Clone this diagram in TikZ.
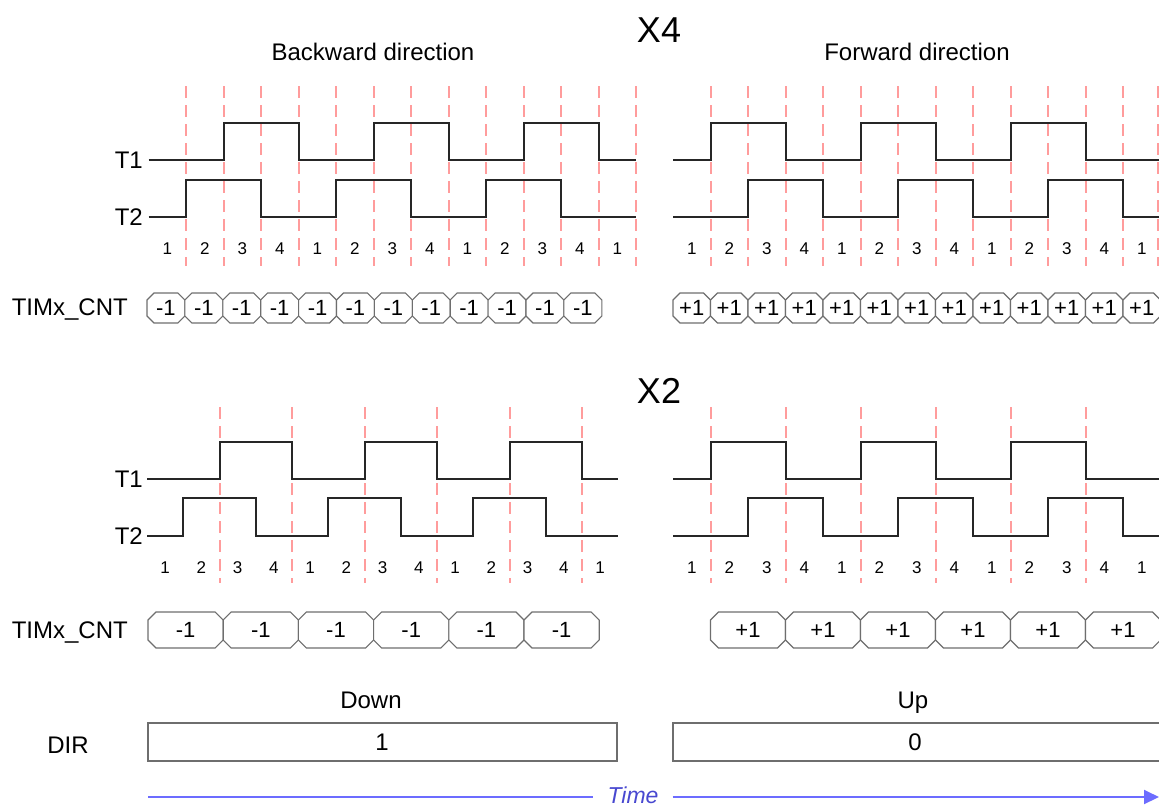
\documentclass[tikz,border=0pt]{standalone}
\usepackage{fontspec}
\setmainfont{Liberation Sans}
\usetikzlibrary{arrows.meta}
\definecolor{wavec}{HTML}{262626}
\definecolor{guidec}{HTML}{FF9C9C}
\definecolor{boxc}{HTML}{6E6E6E}
\definecolor{timeline}{HTML}{6C6CFF}
\definecolor{timetext}{HTML}{4848D0}
\newcommand{\cntbox}[7]{%
  \draw[boxline] (#1,#3+#5) -- (#1+#5,#3) -- (#2-#5,#3) -- (#2,#3+#5) -- (#2,#4-#5) -- (#2-#5,#4) -- (#1+#5,#4) -- (#1,#4-#5) -- cycle;
  \node[cnt] (#7) at ({(#1+#2)/2},{(#3+#4)/2}) {#6};}
\begin{document}
\begin{tikzpicture}[x=1pt,y=-1pt,
  wave/.style={draw=wavec, line width=2pt, line join=miter},
  guide/.style={draw=guidec, line width=1.3pt, dash pattern=on 12pt off 7pt},
  boxline/.style={draw=boxc, line width=1.1pt, fill=white},
  lbl/.style={font=\fontsize{24}{28}\selectfont, inner sep=0pt, text depth=0pt},
  num/.style={font=\fontsize{17}{20}\selectfont, inner sep=0pt, text depth=0pt},
  cnt/.style={font=\fontsize{22}{24}\selectfont, inner sep=0pt, text depth=0pt},
  big/.style={font=\fontsize{36}{40}\selectfont, inner sep=0pt, text depth=0pt},
  dirbox/.style={draw=boxc, line width=1.2pt}]
\useasboundingbox (0,0) rectangle (1159,807);
\clip (0,0) rectangle (1159,807);

% ---------------- titles ----------------
\node[big] (tx4) at (659,30) {X4};
\node[lbl] (tback) at (373,52) {Backward direction};
\node[lbl] (tfwd) at (917,52) {Forward direction};
\node[big] (tx2) at (659,391) {X2};

% ---------------- X4 guides ----------------
\foreach \k in {1,...,13} {
  \pgfmathsetmacro{\gx}{round(148.5+\k*37.5)}
  \draw[guide] (\gx,86) -- (\gx,266);
}
\foreach \k in {1,...,12} {
  \pgfmathsetmacro{\gx}{round(673+\k*37.5)}
  \draw[guide] (\gx,86) -- (\gx,266);
}
\draw[guide] (1158,86) -- (1158,266);

% ---------------- X2 guides ----------------
\foreach \k in {2,4,...,12} {
  \pgfmathsetmacro{\gx}{round(147+\k*36.25)}
  \draw[guide] (\gx,407) -- (\gx,583);
}
\foreach \k in {1,3,...,11} {
  \pgfmathsetmacro{\gx}{round(673+\k*37.5)}
  \draw[guide] (\gx,407) -- (\gx,583);
}

% ---------------- X4 waves ----------------
\node[lbl, anchor=east] (x4t1) at (143,160) {T1};
\node[lbl, anchor=east] (x4t2) at (143,217) {T2};
\draw[wave] (148.5,160) -- (223.5,160) -- (223.5,123) -- (298.5,123) -- (298.5,160) -- (373.5,160) -- (373.5,123) -- (448.5,123) -- (448.5,160) -- (523.5,160) -- (523.5,123) -- (598.5,123) -- (598.5,160) -- (636,160);
\draw[wave] (148.5,217) -- (186,217) -- (186,180) -- (261,180) -- (261,217) -- (336,217) -- (336,180) -- (411,180) -- (411,217) -- (486,217) -- (486,180) -- (561,180) -- (561,217) -- (636,217);
\draw[wave] (673,160) -- (710.5,160) -- (710.5,123) -- (785.5,123) -- (785.5,160) -- (860.5,160) -- (860.5,123) -- (935.5,123) -- (935.5,160) -- (1010.5,160) -- (1010.5,123) -- (1085.5,123) -- (1085.5,160) -- (1165,160);
\draw[wave] (673,217) -- (748,217) -- (748,180) -- (823,180) -- (823,217) -- (898,217) -- (898,180) -- (973,180) -- (973,217) -- (1048,217) -- (1048,180) -- (1123,180) -- (1123,217) -- (1165,217);

\foreach \k in {0,...,12} {
  \pgfmathtruncatemacro{\lab}{mod(\k,4)+1}
  \node[num] (n4l\k) at ({148.5+(\k+0.5)*37.5},249) {\lab};
  \node[num] (n4r\k) at ({673+(\k+0.5)*37.5},249) {\lab};
}

% ---------------- X4 counters ----------------
\node[lbl, anchor=east] (cnt4) at (128,307) {TIMx\_CNT};
\foreach \i in {0,...,11} {
  \cntbox{147+\i*37.9}{147+\i*37.9+37.9}{293}{323}{7}{-1}{c4l\i}
}
\foreach \i in {0,...,12} {
  \cntbox{673+\i*37.5}{673+\i*37.5+37.5}{293}{323}{7}{+1}{c4r\i}
}

% ---------------- X2 waves ----------------
\node[lbl, anchor=east] (x2t1) at (143,479) {T1};
\node[lbl, anchor=east] (x2t2) at (143,536) {T2};
\draw[wave] (147,479) -- (219.5,479) -- (219.5,442) -- (292,442) -- (292,479) -- (364.5,479) -- (364.5,442) -- (437,442) -- (437,479) -- (509.5,479) -- (509.5,442) -- (582,442) -- (582,479) -- (618.25,479);
\draw[wave] (147,536) -- (183.25,536) -- (183.25,498) -- (255.75,498) -- (255.75,536) -- (328.25,536) -- (328.25,498) -- (400.75,498) -- (400.75,536) -- (473.25,536) -- (473.25,498) -- (545.75,498) -- (545.75,536) -- (618.25,536);
\draw[wave] (673,479) -- (710.5,479) -- (710.5,442) -- (785.5,442) -- (785.5,479) -- (860.5,479) -- (860.5,442) -- (935.5,442) -- (935.5,479) -- (1010.5,479) -- (1010.5,442) -- (1085.5,442) -- (1085.5,479) -- (1165,479);
\draw[wave] (673,536) -- (748,536) -- (748,498) -- (823,498) -- (823,536) -- (898,536) -- (898,498) -- (973,498) -- (973,536) -- (1048,536) -- (1048,498) -- (1123,498) -- (1123,536) -- (1165,536);

\foreach \k in {0,...,12} {
  \pgfmathtruncatemacro{\lab}{mod(\k,4)+1}
  \node[num] (n2l\k) at ({147+(\k+0.5)*36.25},568) {\lab};
  \node[num] (n2r\k) at ({673+(\k+0.5)*37.5},568) {\lab};
}

% ---------------- X2 counters ----------------
\node[lbl, anchor=east] (cnt2) at (128,630) {TIMx\_CNT};
\foreach \i in {0,...,5} {
  \cntbox{148+\i*75.2}{148+\i*75.2+75.2}{612}{648}{8}{-1}{c2l\i}
  \cntbox{710.5+\i*75}{710.5+\i*75+75}{612}{648}{8}{+1}{c2r\i}
}

% ---------------- DIR ----------------
\node[lbl] (down) at (371,700) {Down};
\node[lbl] (up) at (913,700) {Up};
\node[lbl] (dir) at (68,745) {DIR};
\draw[dirbox] (148,723) rectangle (617,761);
\draw[dirbox] (673,723) rectangle (1175,761);
\node[lbl] (dir1) at (382,742) {1};
\node[lbl] (dir0) at (915,742) {0};

% ---------------- time arrow ----------------
\coordinate (tstart) at (148,797);
\coordinate (tend) at (1159,797);
\node[lbl, font=\fontsize{23}{27}\selectfont\itshape, text=timetext, inner xsep=14pt] (time) at (633,795) {Time};
\draw[timeline, line width=2pt] (tstart) -- (time.west |- tstart);
\draw[timeline, line width=2pt, -{Triangle[length=15pt,width=14pt]}] (time.east |- tend) -- (tend);
\end{tikzpicture}
\end{document}
